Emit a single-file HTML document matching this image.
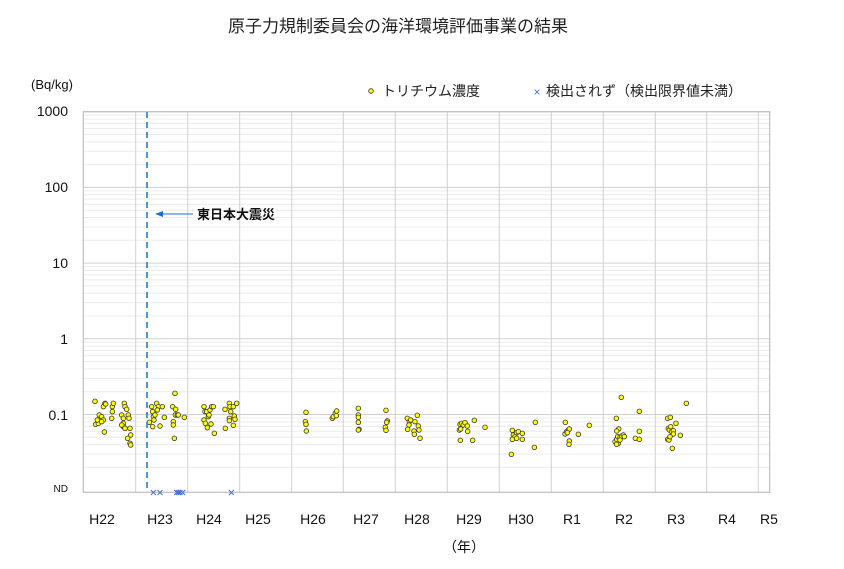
<!DOCTYPE html>
<html><head><meta charset="utf-8"><style>
html,body{margin:0;padding:0;background:#fff;}
svg{display:block;font-family:"Liberation Sans","Noto Sans CJK JP",sans-serif;}
</style></head><body>
<svg id="s" width="844" height="569" viewBox="0 0 844 569" xmlns="http://www.w3.org/2000/svg">
<rect width="844" height="569" fill="#fff"/>
<text x="398" y="32" font-size="17" text-anchor="middle" fill="#222">原子力規制委員会の海洋環境評価事業の結果</text>
<text x="31" y="89" font-size="13" fill="#111">(Bq/kg)</text>
<g id="grid"></g>
<g font-size="14" fill="#111" text-anchor="end">
<text x="68" y="116">1000</text><text x="68" y="192">100</text><text x="68" y="268">10</text>
<text x="68" y="344">1</text><text x="68" y="420">0.1</text>
<text x="68" y="492" font-size="10">ND</text>
</g>
<g font-size="14" fill="#111" text-anchor="middle">
<text x="102" y="524">H22</text><text x="160" y="524">H23</text><text x="209" y="524">H24</text>
<text x="258" y="524">H25</text><text x="313" y="524">H26</text><text x="366" y="524">H27</text>
<text x="417" y="524">H28</text><text x="469" y="524">H29</text><text x="521" y="524">H30</text>
<text x="572" y="524">R1</text><text x="624" y="524">R2</text><text x="676" y="524">R3</text>
<text x="727" y="524">R4</text><text x="769" y="524">R5</text>
<text x="464" y="552">（年）</text>
</g>
<circle cx="371" cy="91" r="2.3" fill="#ffff00" stroke="#333" stroke-width="0.8"/>
<text x="382" y="96" font-size="14" fill="#222">トリチウム濃度</text>
<text x="537" y="96" font-size="12" fill="#4472c4" text-anchor="middle">×</text>
<text x="546" y="96" font-size="14" fill="#222">検出されず（検出限界値未満）</text>
<g id="pts"></g>
<line x1="147" y1="112" x2="147" y2="492" stroke="#1f7fd0" stroke-width="1.6" stroke-dasharray="6,4"/>
<line x1="162" y1="214" x2="193" y2="214" stroke="#1f6fc0" stroke-width="1"/>
<polygon points="155,214 163,211 163,217" fill="#1f6fc0"/>
<text x="197" y="219" font-size="13" font-weight="bold" fill="#111">東日本大震災</text>
</svg>
<script>
(function(){
var NS="http://www.w3.org/2000/svg";
function el(p,t,a){var e=document.createElementNS(NS,t);for(var k in a)e.setAttribute(k,a[k]);p.appendChild(e);return e;}
var g=document.getElementById('grid');
var T=111.7,dec=75.7,L=83.3,R=769.7,B=492.3;
for(var d=0;d<5;d++){for(var m=2;m<=9;m++){var y=T+dec*d+dec*(1-Math.log10(m));el(g,'line',{x1:L,x2:R,y1:y,y2:y,stroke:'#ececec','stroke-width':1});}}
for(var d=0;d<5;d++){var y=T+dec*d;el(g,'line',{x1:L,x2:R,y1:y,y2:y,stroke:'#d0d0d0','stroke-width':1});}
var vx=[135.7,187.7,239.7,291.7,343.3,395.3,447.3,499.3,551.3,603.3,655.3,706.7,758.3];
vx.forEach(function(x){el(g,'line',{x1:x,x2:x,y1:T,y2:B,stroke:'#d0d0d0','stroke-width':1});});
el(g,'rect',{x:L,y:T,width:R-L,height:B-T,fill:'none',stroke:'#bfbfbf','stroke-width':1.2});
var z1=[[105,124],[107,193],[115,190],[118,165],[125,170],[130,180],[133,216],[130,140],[135,130],[137,132],[155,175],[157,155],[157,140],[160,130],[185,165],[190,175],[190,190],[190,200],[193,130],[195,140],[200,148],[205,165],[207,175],[210,205],[212,225],[210,250],[212,255],[203,235],[185,195],[195,205],[125,185],[112,180],
[268,187],[275,140],[278,155],[280,170],[278,200],[282,180],[290,130],[295,140],[292,150],[300,198],[307,140],[313,172],[338,140],[340,185],[340,195],[343,235],[345,100],[347,148],[346,165],[352,165],[355,165],[373,172],[285,165],
[432,140],[435,155],[440,155],[445,170],[432,180],[436,190],[442,203],[447,165],[450,150],[455,140],[460,140],[453,192],[463,220],[495,148],[496,205],[508,130],[510,140],[512,155],[508,175],[508,182],[520,140],[523,168],[525,178],[520,196],[530,130],
[738,157],[736,185],[738,193],[739,213],[817,175],[820,170],[826,160],[830,153],[829,167]];
var z2=[[25,145],[25,165],[25,172],[25,187],[27,208],[25,210],
[108,151],[112,183],[110,187],[106,202],[108,211],[172,175],[178,185],[177,195],[173,208],[182,180],[192,213],[193,223],[202,166],[205,198],[207,210],[210,235],[195,185],
[330,193],[335,190],[340,195],[345,188],[352,198],[328,210],[332,207],[353,214],[373,181],[405,202],[331,241],[368,241],
[487,211],[490,225],[495,230],[487,238],[500,218],[505,215],[500,235],[517,220],[517,238],[556,187],[553,262],[484,283],
[646,187],[645,222],[650,215],[655,210],[658,207],[652,218],[658,243],[657,253],[685,223],[718,196],
[814,112],[799,175],[806,207],[800,213],[795,245],[800,238],[803,230],[805,250],[810,232],[815,228],[820,225],[823,230],[810,240],[800,253],[868,154],[868,214],[856,235],[868,238],
[953,175],[961,172],[978,190],[955,205],[958,210],[962,200],[965,215],[970,212],[970,222],[953,238],[957,240],[960,230],[991,226],[967,265],[1009,130]];
var p=document.getElementById('pts');
function dot(x,y){el(p,'circle',{cx:x,cy:y,r:2.3,fill:'#ffff00',stroke:'#333','stroke-width':0.8});}
z1.forEach(function(a){dot(60+a[0]/3,360+a[1]/3);});
z2.forEach(function(a){dot(350+a[0]/3,360+a[1]/3);});
[280,300,350,355,360,368,514].forEach(function(zx){var x=60+zx/3;
el(p,'path',{d:'M'+(x-2.5)+' 490 L'+(x+2.5)+' 495 M'+(x+2.5)+' 490 L'+(x-2.5)+' 495',stroke:'#4472c4','stroke-width':1});});
})();
</script>
</body></html>
